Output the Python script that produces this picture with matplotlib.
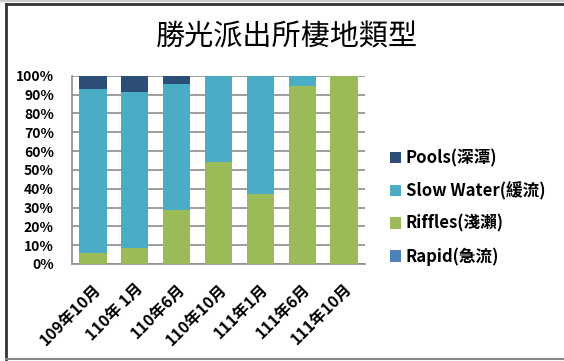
import matplotlib
matplotlib.use("Agg")
import matplotlib.pyplot as plt
import numpy as np
from matplotlib.lines import Line2D
from matplotlib.patches import Patch

plt.rcParams['font.family'] = ['Noto Sans CJK TC', 'DejaVu Sans']

# survey dates and habitat shares (fraction of each survey)
dates = ['109年10月', '110年 1月', '110年6月', '110年10月', '111年1月', '111年6月', '111年10月']
rapid = [0.0, 0.0, 0.0, 0.0, 0.0, 0.0, 0.0]
riffles = [0.06, 0.083, 0.288, 0.54, 0.373, 0.947, 1.0]
slow_water = [0.87, 0.832, 0.666, 0.46, 0.627, 0.053, 0.0]
pools = [0.07, 0.085, 0.046, 0.0, 0.0, 0.0, 0.0]

series = [
    ('Rapid(急流)', rapid, '#4F81BD'),
    ('Riffles(淺瀨)', riffles, '#9BBB59'),
    ('Slow Water(緩流)', slow_water, '#4BACC6'),
    ('Pools(深潭)', pools, '#2C4D75'),
]

fig = plt.figure(figsize=(5.64, 3.61), dpi=100)
ax = fig.add_axes([0.1277, 0.2687, 0.5195, 0.5213])

x = np.arange(len(dates))
bottom = np.zeros(len(dates))
for name, vals, color in series:
    ax.bar(x, vals, width=0.65, bottom=bottom, color=color, zorder=3)
    bottom += np.array(vals)

ax.set_xlim(-0.5, len(dates) - 0.5)
ax.set_ylim(0, 1)
ax.set_yticks(np.arange(0, 1.01, 0.1))
ax.set_yticklabels([f'{int(round(v * 100))}%' for v in np.arange(0, 1.01, 0.1)],
                   fontsize=10, fontweight='bold')
ax.set_xticks(x)
ax.set_xticklabels(dates, rotation=45, ha='right', rotation_mode='anchor',
                   fontsize=11.5, fontweight='bold')
ax.tick_params(axis='y', length=0, pad=13)
ax.tick_params(axis='x', length=0, pad=12)
ax.yaxis.grid(True, color='#8c8c8c', linewidth=1.2, zorder=0)
for side in ['top', 'right']:
    ax.spines[side].set_visible(False)
ax.spines['left'].set_color('#8c8c8c')
ax.spines['bottom'].set_color('#8c8c8c')
ax.spines['left'].set_linewidth(1.2)
ax.spines['bottom'].set_linewidth(1.2)

fig.text(0.509, 0.895, '勝光派出所棲地類型', ha='center', va='center', fontsize=21)

handles = [Patch(facecolor=c, edgecolor='none') for _, _, c in series[::-1]]
labels = [n for n, _, _ in series[::-1]]
fig.legend(handles, labels, loc='center left', bbox_to_anchor=(0.665, 0.425),
           frameon=False, prop={'weight': 'bold', 'size': 12},
           handlelength=0.65, handleheight=0.65, handletextpad=0.3, labelspacing=0.87)

# chart frame edges
fig.add_artist(Line2D([0.011, 0.011], [0.005, 0.99], color='#333333', linewidth=2))
fig.add_artist(Line2D([0.011, 1.0], [0.99, 0.99], color='#333333', linewidth=2))
fig.add_artist(Line2D([0.0, 1.0], [0.996, 0.996], color='#cccccc', linewidth=1.5))
fig.add_artist(Line2D([0.011, 1.0], [0.006, 0.006], color='#888888', linewidth=1.5))

fig.savefig('out.png', dpi=100)
